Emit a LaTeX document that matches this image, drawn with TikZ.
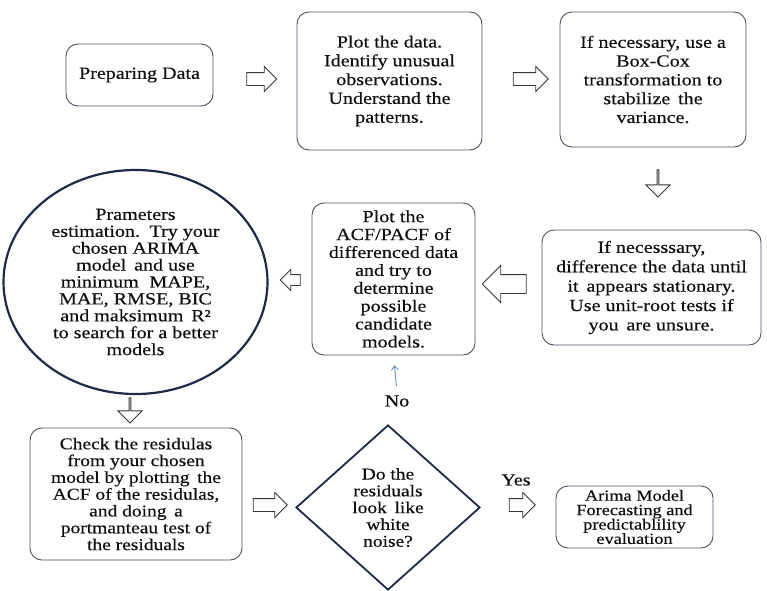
\documentclass[tikz,border=0pt]{standalone}
\usepackage{fontspec}
\setmainfont{Liberation Serif}[FakeStretch=1.18,FakeBold=0.35]
\usetikzlibrary{shapes.geometric,shapes.arrows,arrows.meta}
\definecolor{boxcol}{RGB}{72,82,98}
\definecolor{navy}{RGB}{30,42,72}
\definecolor{arrcol}{RGB}{55,55,55}
\definecolor{thincol}{RGB}{95,130,170}
\definecolor{txtcol}{RGB}{15,15,15}
\tikzset{
  txt/.style={font=\fontsize{17}{18.8}\selectfont, text=txtcol, align=center},
  tight/.style={font=\fontsize{16.5}{16.8}\selectfont},
  stepbox/.style={txt, draw=boxcol, line width=0.9pt, rounded corners=12pt, inner sep=0pt},
  blockarrow/.style={single arrow, draw=arrcol, fill=white, line width=0.9pt,
    inner xsep=0pt, inner ysep=#1/2, single arrow head extend=#1/2, anchor=center},
  blockarrow/.default=12pt,
}
\begin{document}
\begin{tikzpicture}[x=1pt,y=-1pt]
\useasboundingbox (0,0) rectangle (767,590);
% row 1
\node[stepbox, minimum width=147, minimum height=62] (prep) at (139.5,75) {Preparing Data};
\node[stepbox, minimum width=185, minimum height=138] (plot) at (389.5,81)
  {Plot the data.\\Identify unusual\\observations.\\Understand the\\patterns.};
\node[stepbox, minimum width=186, minimum height=135] (bc) at (653,79.5)
  {If necessary, use a\\Box-Cox\\transformation to\\stabilize\, the\\variance.};
% row 2
\node[stepbox, font=\fontsize{17}{19.4}\selectfont, minimum width=219, minimum height=115] (diff) at (651.5,287.5)
  {If necesssary,\\difference the data until\\it\, appears stationary.\\Use unit-root tests if\\you\, are unsure.};
\node[stepbox, font=\fontsize{17}{17.9}\selectfont, minimum width=163, minimum height=152] (acf) at (393.5,279)
  {Plot the\\ACF/PACF of\\differenced data\\and try to\\determine\\possible\\candidate\\models.};
\node[ellipse, draw=navy, line width=2.2pt, minimum width=264, minimum height=224, inner sep=0pt,
  label={[txt,font=\fontsize{17}{16.9}\selectfont]center:{Prameters\\estimation.\, Try your\\chosen ARIMA\\model\, and use\\minimum\,\, MAPE,\\MAE, RMSE, BIC\\and maksimum\, R²\\to search for a better\\models}}]
  (est) at (135.5,282) {};
% row 3
\node[stepbox, tight, minimum width=212, minimum height=132] (chk) at (136,494)
  {Check the residulas\\from your chosen\\model by plotting\, the\\ACF of the residulas,\\and doing\, a\\portmanteau test of\\the residuals};
\node[diamond, draw=navy, line width=1.8pt, minimum width=184, minimum height=165, inner sep=0pt,
  label={[txt,tight]center:{Do the\\residuals\\look\, like\\white\\noise?}}]
  (dec) at (388,507.5) {};
\node[stepbox, font=\fontsize{15.5}{14.4}\selectfont, minimum width=157, minimum height=62] (arima) at (634.5,517)
  {Arima Model\\Forecasting and\\predictablility\\evaluation};
% labels
\node[txt] (no) at (397,401) {No};
\node[txt] (yes) at (516,480) {Yes};
% block arrows
\node[blockarrow, minimum height=30, minimum width=24] (a1) at (258.5,79) {};
\node[blockarrow, minimum height=35, minimum width=24] (a2) at (527.5,79) {};
\node[blockarrow, minimum height=27, minimum width=24, shape border rotate=270] (a3) at (658,183) {};
\node[blockarrow=18pt, minimum height=44, minimum width=30, shape border rotate=180] (a4) at (509,284) {};
\node[blockarrow=10pt, minimum height=20, minimum width=20, shape border rotate=180] (a5) at (293,280) {};
\node[blockarrow, minimum height=25, minimum width=24, shape border rotate=270] (a6) at (130,410) {};
\node[blockarrow, minimum height=34, minimum width=24] (a7) at (267,505) {};
\node[blockarrow, minimum height=26, minimum width=22] (a8) at (519,505) {};
% thin arrow
\draw[thincol, line width=0.8pt, -{Straight Barb[length=4pt,width=7pt]}, shorten <=6pt, shorten >=10pt] (no.north) -- (acf.south);
\end{tikzpicture}
\end{document}
